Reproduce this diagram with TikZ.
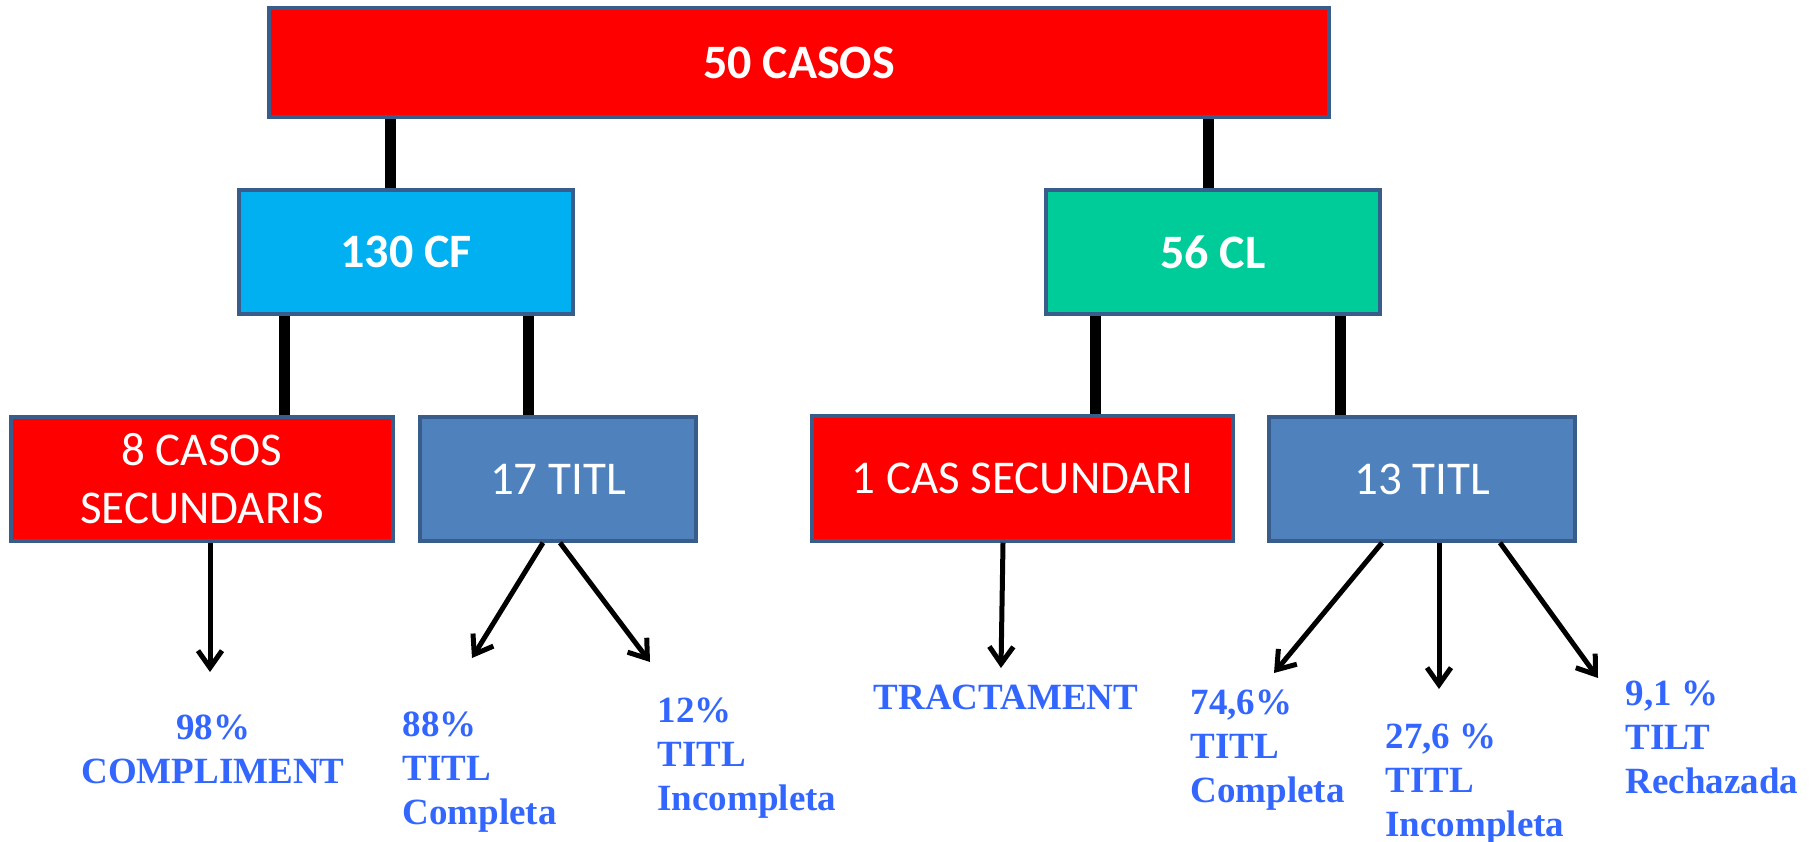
\documentclass[tikz,border=0pt]{standalone}
\usepackage{fontspec}
\setmainfont{Carlito}
\newfontfamily\pctfont{Liberation Serif}
\usetikzlibrary{arrows.meta}
\definecolor{casred}{HTML}{FF0000}
\definecolor{cfblue}{HTML}{00B0F0}
\definecolor{clgreen}{HTML}{00CC99}
\definecolor{titlblue}{HTML}{4F81BD}
\definecolor{edgeblue}{HTML}{385D8A}
\definecolor{pctblue}{HTML}{3366FF}

\begin{document}
\begin{tikzpicture}[x=1pt, y=-1pt,
            box/.style={draw=edgeblue, line width=3.5pt, rectangle, text=white,
                        minimum height=124pt, inner sep=0pt, align=center,
                        font=\fontsize{47}{58}\selectfont},
            boldbox/.style={box, font=\fontsize{48}{58}\selectfont\bfseries},
            pct/.style={text=pctblue, inner sep=0pt, align=left,
                        font=\pctfont\bfseries\fontsize{37}{44}\selectfont},
            bar/.style={draw, line width=11pt},
            every path/.style={line width=5pt, -{Straight Barb[length=17pt, width=24pt]}}]
        \useasboundingbox (0,0) rectangle (1812,842);

        \node[boldbox, fill=casred, minimum width=1060pt, minimum height=109pt] (top) at (799,62.5) {50 CASOS};
        \node[boldbox, fill=cfblue, minimum width=334pt] (cf) at (406,252) {130 CF};
        \node[boldbox, fill=clgreen, minimum width=334pt] (cl) at (1213,252) {56 CL};

        \node[box, fill=casred, minimum width=382pt] (cas8) at (202,479) {8 CASOS\\SECUNDARIS};
        \node[box, fill=titlblue, minimum width=276pt] (titl17) at (558,479) {17 TITL};
        \node[box, fill=casred, minimum width=421pt, minimum height=125pt] (cas1) at (1022.5,478.5) {1 CAS SECUNDARI};
        \node[box, fill=titlblue, minimum width=306pt] (titl13) at (1422,479) {13 TITL};

        \draw[bar, -] ([xshift=-16pt]cf.north) -- ([xshift=-16pt]cf.north |- top.south);
        \draw[bar, -] ([xshift=-5pt]cl.north) -- ([xshift=-5pt]cl.north |- top.south);
        \draw[bar, -] ([xshift=47pt]cf.south west) -- ([xshift=47pt]cf.south west |- cas8.north);
        \draw[bar, -] ([xshift=-46pt]cf.south east) -- ([xshift=-46pt]cf.south east |- titl17.north);
        \draw[bar, -] ([xshift=51pt]cl.south west) -- ([xshift=51pt]cl.south west |- cas1.north);
        \draw[bar, -] ([xshift=-41pt]cl.south east) -- ([xshift=-41pt]cl.south east |- titl13.north);

        \coordinate (tip98) at (210,672);
        \coordinate (tip88) at (472,658);
        \coordinate (tip12) at (650,662);
        \coordinate (tiptr) at (1001,668);
        \coordinate (tip746) at (1274,673);
        \coordinate (tip276) at (1439,689);
        \coordinate (tip91) at (1598,678);

        \draw ([xshift=8pt]cas8.south) -- (tip98);
        \draw ([xshift=-15pt]titl17.south) -- (tip88);
        \draw ([xshift=2pt]titl17.south) -- (tip12);
        \draw ([xshift=-19.5pt]cas1.south) -- (tiptr);
        \draw ([xshift=-40pt]titl13.south) -- (tip746);
        \draw ([xshift=17pt]titl13.south) -- (tip276);
        \draw ([xshift=78pt]titl13.south) -- (tip91);

        \node[pct, align=center, anchor=north] (l98) at (213,712) {98\%\\COMPLIMENT};
        \node[pct, anchor=north west] (l88) at (400,709) {88\%\\TITL\\Completa};
        \node[pct, anchor=north west] (l12) at (655,695) {12\%\\TITL\\Incompleta};
        \node[pct, anchor=base] (ltr) at (1006,709) {TRACTAMENT};
        \node[pct, anchor=north west] (l746) at (1188,687) {74,6\%\\TITL\\Completa};
        \node[pct, anchor=north west] (l276) at (1383,721) {27,6 \%\\TITL\\Incompleta};
        \node[pct, anchor=north west] (l91) at (1623,678) {9,1 \%\\TILT\\Rechazada};
\end{tikzpicture}
\end{document}
